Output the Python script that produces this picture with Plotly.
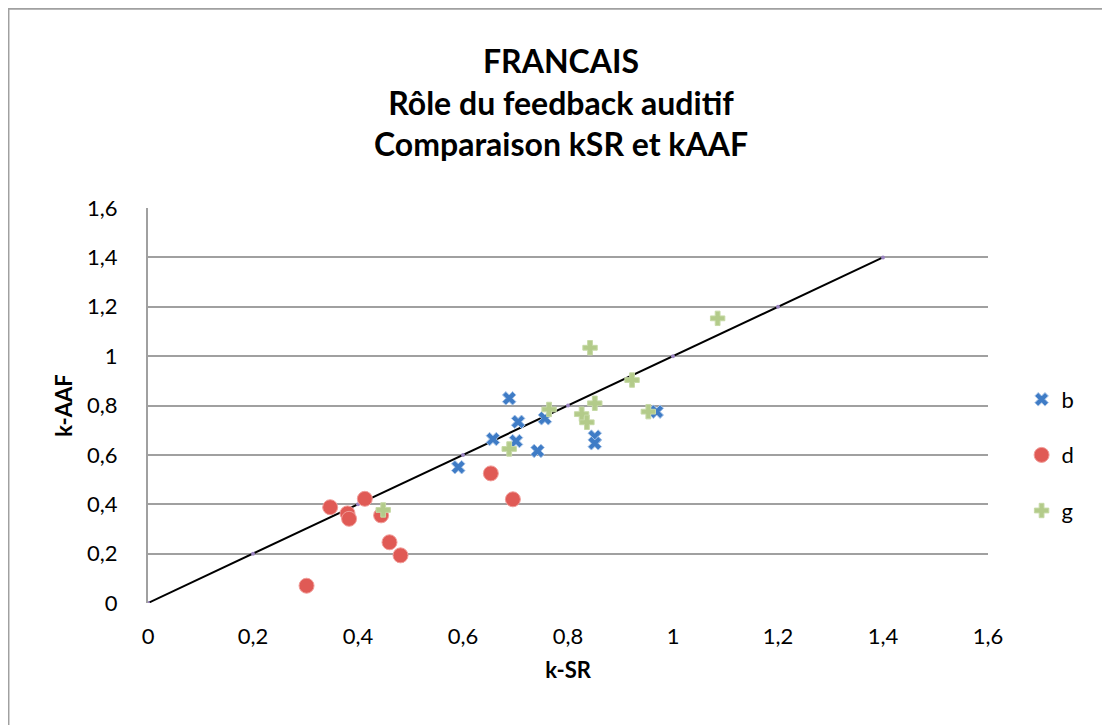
import plotly.graph_objects as go

# ---- data ----
b_x = [0.688, 0.705, 0.657, 0.701, 0.742, 0.591, 0.756, 0.969, 0.851, 0.851]
b_y = [0.829, 0.734, 0.664, 0.656, 0.616, 0.550, 0.748, 0.775, 0.674, 0.647]

d_x = [0.302, 0.347, 0.380, 0.383, 0.413, 0.444, 0.460, 0.481, 0.653, 0.695]
d_y = [0.070, 0.388, 0.363, 0.341, 0.422, 0.355, 0.246, 0.193, 0.525, 0.420]

g_x = [0.448, 0.688, 1.085, 0.842, 0.922, 0.851, 0.826, 0.836, 0.953, 0.764]
g_y = [0.377, 0.624, 1.153, 1.034, 0.903, 0.809, 0.765, 0.732, 0.775, 0.784]

diag_x = [0, 0.2, 0.4, 0.6, 0.8, 1.0, 1.2, 1.4]
diag_y = [0, 0.2, 0.4, 0.6, 0.8, 1.0, 1.2, 1.4]

tick_vals = [0, 0.2, 0.4, 0.6, 0.8, 1.0, 1.2, 1.4, 1.6]
tick_text = ["0", "0,2", "0,4", "0,6", "0,8", "1", "1,2", "1,4", "1,6"]

FONT = "Lato, 'Open Sans', sans-serif"

fig = go.Figure()

fig.add_trace(go.Scatter(
    x=diag_x, y=diag_y, mode="lines+markers", showlegend=False,
    line=dict(color="black", width=2),
    marker=dict(color="#9b85c2", size=4, symbol="circle"),
))
fig.add_trace(go.Scatter(
    x=b_x, y=b_y, mode="markers", name="b", legendgroup="b",
    marker=dict(symbol="x", size=12, color="#3f7cc6",
                line=dict(color="#a9c5e8", width=1)),
))
fig.add_trace(go.Scatter(
    x=d_x, y=d_y, mode="markers", name="d", legendgroup="d",
    marker=dict(symbol="circle", size=15, color="#e05a55",
                line=dict(color="#f19d99", width=1)),
))
fig.add_trace(go.Scatter(
    x=g_x, y=g_y, mode="markers", name="g", legendgroup="g",
    marker=dict(symbol="cross", size=12, color="#b3cb8a",
                line=dict(color="#c6d9a6", width=1)),
))

fig.update_layout(
    width=1102, height=717,
    margin=dict(l=140, r=122, t=200, b=122),
    paper_bgcolor="white", plot_bgcolor="white",
    font=dict(family=FONT, size=22, color="black"),
    separators=", ",
    title=dict(
        text="<b>FRANCAIS<br>Rôle du feedback auditif<br>Comparaison kSR et kAAF</b>",
        font=dict(family=FONT, size=32, color="black"),
        x=(561 - 8) / 1102, xanchor="center", xref="container",
        y=1 - 65 / 717, yanchor="top", yref="container",
    ),
    showlegend=True,
    legend=dict(
        x=1.04, xanchor="left", y=(595 - 447) / 395, yanchor="middle",
        font=dict(family=FONT, size=22),
        tracegroupgap=24, bgcolor="rgba(0,0,0,0)",
    ),
    xaxis=dict(
        range=[0, 1.6], tickvals=tick_vals, ticktext=tick_text,
        showgrid=False, zeroline=False, showline=False,
        ticks="outside", ticklen=14, tickcolor="rgba(0,0,0,0)",
        title=dict(text="<b>k-SR</b>", font=dict(family=FONT, size=22), standoff=14),
    ),
    yaxis=dict(
        range=[0, 1.6], tickvals=tick_vals, ticktext=tick_text,
        showgrid=True, gridcolor="#a0a0a0", gridwidth=2,
        zeroline=False, showline=True, linecolor="#a0a0a0", linewidth=2,
        ticks="outside", ticklen=24, tickcolor="rgba(0,0,0,0)",
        title=dict(text="<b>k-AAF</b>", font=dict(family=FONT, size=22), standoff=8),
    ),
    shapes=[dict(
        type="rect", xref="paper", yref="paper",
        x0=-0.1667, x1=1.6, y0=-0.6, y1=1.506,
        line=dict(color="#a0a0a0", width=3), layer="below",
    )],
)

fig.write_html("out.html")
